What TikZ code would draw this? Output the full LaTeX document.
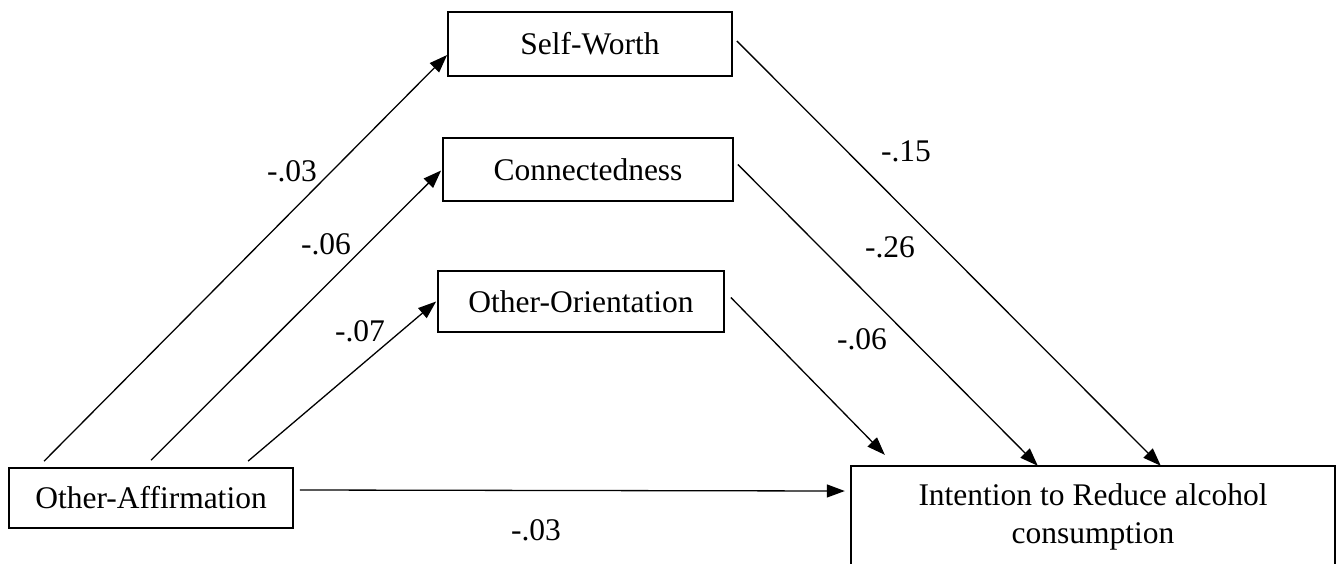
\documentclass[tikz,border=0pt]{standalone}
\usepackage{fontspec}
\setmainfont{Liberation Serif}
\usetikzlibrary{arrows.meta}
\tikzset{
  box/.style={draw, line width=1.8pt, inner sep=0pt, font=\fontsize{31.5}{38}\selectfont},
  lbl/.style={inner sep=0pt, font=\fontsize{31.5}{38}\selectfont},
  arr/.style={line width=1.3pt, -{Triangle[length=18pt,width=13pt]}},
  plain/.style={line width=1.3pt}
}
\begin{document}
\begin{tikzpicture}[x=1pt,y=-1pt]
\useasboundingbox (0,0) rectangle (1343,563);
% boxes
\node[box, minimum width=284pt, minimum height=64pt] (sw) at (590,44) {Self-Worth};
\node[box, minimum width=290pt, minimum height=63pt] (cn) at (588,169.5) {Connectedness};
\node[box, minimum width=286pt, minimum height=61pt] (oo) at (581,301.5) {Other-Orientation};
\node[box, minimum width=284pt, minimum height=60pt] (oa) at (151,498) {Other-Affirmation};
\node[lbl, minimum width=484pt, minimum height=102pt, align=center] (int) at (1093,517) {Intention to Reduce alcohol\\consumption};
\draw[line width=1.8pt] ([yshift=-80pt]int.south west) -- (int.north west) -- (int.north east) -- ([yshift=-80pt]int.south east);
% left arrows
\draw[arr] ([xshift=36pt,yshift=6pt]oa.north west) -- ([yshift=-11pt]sw.west);
\draw[arr] ([xshift=143pt,yshift=7pt]oa.north west) -- ([xshift=-1pt,yshift=-1pt]cn.west);
\draw[arr] ([xshift=240pt,yshift=6pt]oa.north west) -- ([xshift=-1pt]oo.west);
% right arrows
\draw[arr] ([xshift=4pt,yshift=3pt]sw.east) -- ([xshift=310pt]int.north west);
\draw[arr] ([xshift=4pt,yshift=5pt]cn.east) -- ([xshift=187pt]int.north west);
\draw[arr] ([xshift=6pt,yshift=4pt]oo.east) -- ([xshift=34pt,yshift=11pt]int.north west);
% direct
\draw[arr] ([xshift=6pt,yshift=8pt]oa.east) -- ([xshift=-6pt,yshift=26pt]int.west);
% labels
\node[lbl] (l1) at (292,171) {-.03};
\node[lbl] (l2) at (326,244) {-.06};
\node[lbl] (l3) at (360,331) {-.07};
\node[lbl] (l4) at (906,151) {-.15};
\node[lbl] (l5) at (890,247) {-.26};
\node[lbl] (l6) at (862,339) {-.06};
\node[lbl] (l7) at (536,530) {-.03};
\end{tikzpicture}
\end{document}
